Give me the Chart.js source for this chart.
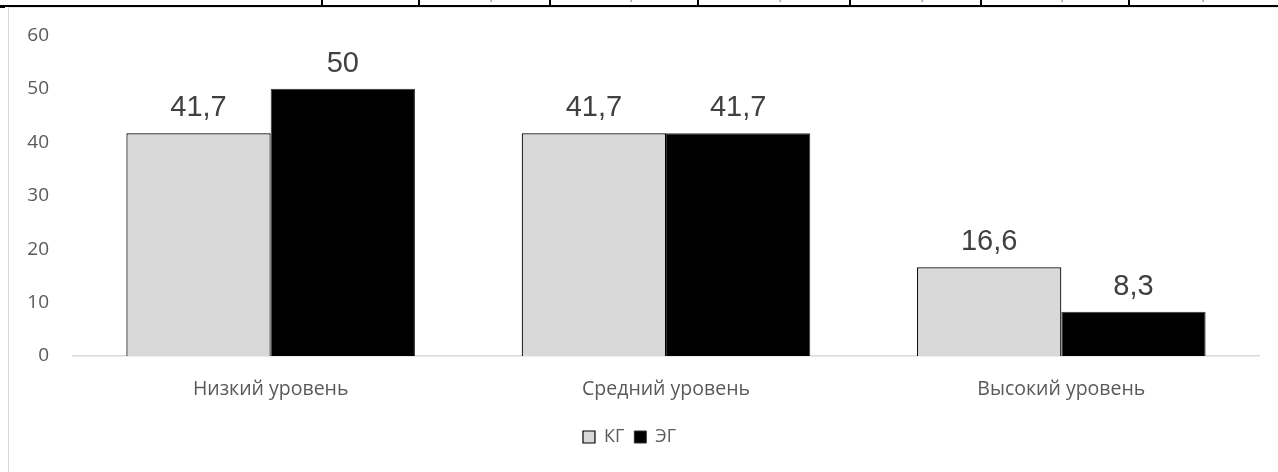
<!DOCTYPE html>
<html lang="ru">
<head>
<meta charset="utf-8">
<script src="https://cdn.jsdelivr.net/npm/chart.js@4/dist/chart.umd.min.js"></script>
<style>
  html, body { margin: 0; padding: 0; background: #fff; }
  body { width: 1278px; height: 472px; position: relative; overflow: hidden; font-family: "Open Sans", sans-serif; }
  /* ruled strip of the table row above the figure */
  .rule { position: absolute; left: 0; top: 5px; width: 1278px; height: 1.5px; background: #000; }
  .rule-corner { position: absolute; left: 0; top: 5px; width: 5px; height: 2.5px; background: #000; }
  .cell { position: absolute; top: 0; width: 1.5px; height: 6px; background: #000; }
  .tail { position: absolute; top: -13px; font: 14px "Liberation Sans", sans-serif; color: #555; }
  .frame { position: absolute; left: 8px; top: 7px; width: 1300px; height: 500px;
           border-left: 1.5px solid #d9d9d9; border-top: 1px solid #e6e6e6; }
  #wrap { position: absolute; left: 0; top: 0; width: 1278px; height: 472px; }
</style>
</head>
<body>
<div class="rule"></div>
<div class="rule-corner"></div>
<div class="cell" style="left:321px"></div>
<div class="cell" style="left:418px"></div>
<div class="cell" style="left:549px"></div>
<div class="cell" style="left:697px"></div>
<div class="cell" style="left:849px"></div>
<div class="cell" style="left:980px"></div>
<div class="cell" style="left:1128px"></div>
<span class="tail" style="left:489px">,</span>
<span class="tail" style="left:629px">,</span>
<span class="tail" style="left:778px">,</span>
<span class="tail" style="left:920px">,</span>
<span class="tail" style="left:1060px">,</span>
<span class="tail" style="left:1201px">,</span>
<div class="frame"></div>
<div id="wrap"><canvas id="chart"></canvas></div>
<script>
// Уровни и доли (%) контрольной и экспериментальной групп
const categories = ["Низкий уровень", "Средний уровень", "Высокий уровень"];
const seriesNames = ["КГ", "ЭГ"];
const kgValues = [41.7, 41.7, 16.6];
const egValues = [50, 41.7, 8.3];
const yTicks = [0, 10, 20, 30, 40, 50, 60];

const fmt = v => String(v).replace('.', ',');

// Подписи значений над столбцами
const valueLabels = {
  id: 'valueLabels',
  afterDatasetsDraw(chart) {
    const ctx = chart.ctx;
    ctx.save();
    ctx.font = '29px "Liberation Sans", Arial, sans-serif';
    ctx.fillStyle = '#404040';
    ctx.textAlign = 'center';
    ctx.textBaseline = 'alphabetic';
    chart.data.datasets.forEach((ds, di) => {
      chart.getDatasetMeta(di).data.forEach((bar, i) => {
        ctx.fillText(fmt(ds.data[i]), bar.x, bar.y - 17);
      });
    });
    ctx.restore();
  }
};

new Chart(document.getElementById('chart'), {
  type: 'bar',
  data: {
    labels: categories,
    datasets: [
      { label: seriesNames[0], data: kgValues, backgroundColor: '#d9d9d9', borderColor: '#000', borderWidth: 1.2 },
      { label: seriesNames[1], data: egValues, backgroundColor: '#000', borderColor: '#333', borderWidth: 1 }
    ]
  },
  options: {
    responsive: true,
    maintainAspectRatio: false,
    animation: false,
    devicePixelRatio: 1,
    categoryPercentage: 0.73,
    barPercentage: 1,
    layout: { padding: { left: 0, right: 19, top: 35, bottom: 16 } },
    scales: {
      x: {
        grid: { display: false, drawTicks: false },
        border: { display: true, color: '#d9d9d9', width: 1.5 },
        ticks: { color: '#595959', font: { family: '"Open Sans", sans-serif', size: 19.5 }, padding: 22 },
        afterFit(scale) { scale.height = 62; }
      },
      y: {
        min: 0,
        max: 60,
        afterBuildTicks(scale) { scale.ticks = yTicks.map(v => ({ value: v })); },
        grid: { display: false, drawTicks: false },
        border: { display: false },
        ticks: { color: '#595959', font: { family: '"Open Sans", sans-serif', size: 19 }, padding: 24 },
        afterFit(scale) { scale.width = 73; }
      }
    },
    plugins: {
      legend: {
        position: 'bottom',
        labels: {
          boxWidth: 12,
          boxHeight: 12,
          padding: 10,
          color: '#595959',
          font: { family: '"Open Sans", sans-serif', size: 18 }
        }
      },
      tooltip: { enabled: false }
    }
  },
  plugins: [valueLabels]
});
</script>
</body>
</html>
